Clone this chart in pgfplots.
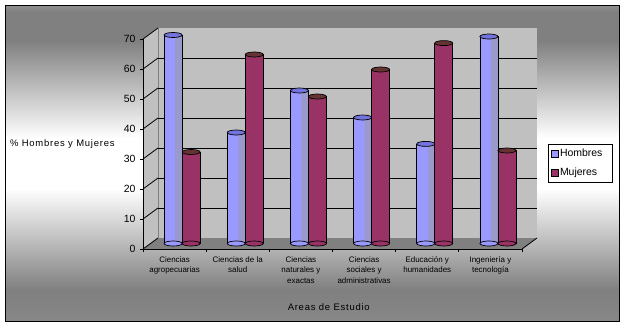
\documentclass[border=0pt]{standalone}
\usepackage{fontspec}
\setmainfont{Liberation Sans}
\usepackage{pgfplots}
\usepackage{pgfplotstable}
\pgfplotsset{compat=1.18}

\definecolor{hL}{HTML}{9999FF}
\definecolor{hR}{HTML}{9999CC}
\definecolor{hTop}{HTML}{7373DD}
\definecolor{mF}{HTML}{993366}
\definecolor{mTop}{HTML}{663333}
\definecolor{wallgray}{HTML}{C0C0C0}
\definecolor{floorgray}{HTML}{808080}
\definecolor{bgbot}{gray}{0.53}
\definecolor{bgmid}{gray}{0.5}
\definecolor{bgtop}{gray}{0.56}

\pgfdeclareverticalshading{bgshade}{100bp}{color(0bp)=(bgbot); color(25bp)=(bgbot); color(30bp)=(bgmid); color(46bp)=(white); color(54bp)=(white); color(69.5bp)=(bgmid); color(74bp)=(bgmid); color(75bp)=(bgtop); color(100bp)=(bgtop)}

\pgfdeclareplotmark{cylcap}{%
  \pgfpathellipse{\pgfpointorigin}{\pgfqpoint{9bp}{0bp}}{\pgfqpoint{0bp}{2.5bp}}%
  \pgfusepathqfillstroke}

\pgfplotstableread{
x H M
0 69.5 30.5
1 37 63
2 51 49
3 42 58
4 33.2 66.8
5 69 31
}\datatable

\begin{document}
\begin{tikzpicture}[x=1bp,y=1bp]
\useasboundingbox (0,0) rectangle (625,327);
\fill[white] (0,0) rectangle (625,327);
\fill[shading=bgshade] (5.5,5.5) rectangle (619.5,321.5);
\draw[black,line width=1bp] (5.5,5.5) rectangle (619.5,321.5);
% walls and floor
\fill[wallgray] (143,288) -- (158,299) -- (158,89) -- (143,78) -- cycle;
\fill[wallgray] (158,89) rectangle (537,299);
\fill[floorgray] (143,78) -- (158,89) -- (537,89) -- (522,78) -- cycle;
\draw[floorgray,line width=0.8bp] (158,89) -- (158,299);
\draw[black,line width=0.8bp] (522,78) -- (537,89);
\foreach \v in {0,10,...,70} {
  \draw[black,line width=0.8bp] (143,{78+3*\v}) -- (158,{89+3*\v});
}

% back wall gridlines
\begin{axis}[at={(158bp,89bp)}, anchor=south west, scale only axis,
  width=379bp, height=210bp, xmin=-0.5, xmax=5.5, ymin=0, ymax=70,
  axis line style={draw=none}, xtick=\empty, ytick={10,20,...,60},
  yticklabels={}, major tick length=0pt, ymajorgrids,
  major grid style={black,line width=0.8bp}]
\end{axis}

% bars (mid depth)
\begin{axis}[at={(150.5bp,83.5bp)}, anchor=south west, scale only axis,
  width=379bp, height=210bp, xmin=-0.5, xmax=5.5, ymin=0, ymax=70,
  hide axis, clip=false,
  legend style={at={(rel axis cs:1.0488,0.4738)}, anchor=north west,
    draw=black, fill=white, line width=0.8bp,
    font=\fontsize{10.5}{12}\selectfont, inner xsep=3bp, inner ysep=3.5bp,
    row sep=6.5bp, cells={anchor=west},
    nodes={inner sep=1bp, text height=8bp, text depth=2bp},
    /tikz/every even column/.style={column sep=0bp}},
  legend cell align=left]
\addlegendimage{legend image code/.code={\draw[fill=hL,draw=black,line width=0.6bp] (0bp,-3.5bp) rectangle (7bp,3.5bp);}}
\addlegendimage{legend image code/.code={\draw[fill=mF,draw=black,line width=0.6bp] (0bp,-3.5bp) rectangle (7bp,3.5bp);}}
% bottom caps
\addplot[forget plot, only marks, mark=cylcap, mark options={xshift=-9bp, fill=hL, draw=black, line width=0.7bp}] table[x=x, y expr=0] \datatable;
\addplot[forget plot, only marks, mark=cylcap, mark options={xshift=9bp, fill=mF, draw=black, line width=0.7bp}] table[x=x, y expr=0] \datatable;
% Hombres bars: light body, darker right side, outline
\addplot[forget plot, ybar, bar width=18bp, bar shift=-9bp, fill=hL, draw=none] table[x=x, y=H] \datatable;
\addplot[forget plot, ybar, bar width=7bp, bar shift=-3.5bp, fill=hR, draw=none] table[x=x, y=H] \datatable;
\addplot[forget plot, ybar, bar width=18bp, bar shift=-9bp, fill=none, draw=black, line width=0.7bp] table[x=x, y=H] \datatable;
% Mujeres bars
\addplot[forget plot, ybar, bar width=18bp, bar shift=9bp, fill=mF, draw=black, line width=0.7bp] table[x=x, y=M] \datatable;
% top caps
\addplot[forget plot, only marks, mark=cylcap, mark options={xshift=-9bp, fill=hTop, draw=black, line width=0.7bp}] table[x=x, y=H] \datatable;
\addplot[forget plot, only marks, mark=cylcap, mark options={xshift=9bp, fill=mTop, draw=black, line width=0.7bp}] table[x=x, y=M] \datatable;
\legend{Hombres\hspace*{6bp},Mujeres}
\end{axis}

% front axis
\begin{axis}[at={(143bp,78bp)}, anchor=south west, scale only axis,
  width=379bp, height=210bp, xmin=-0.5, xmax=5.5, ymin=0, ymax=70,
  axis x line*=bottom, axis y line*=left,
  axis line style={black,line width=0.8bp},
  ytick={0,10,...,70},
  xtick={0,...,5},
  xticklabels={{Ciencias\\agropecuarias},{Ciencias de la\\salud},{Ciencias\\naturales y\\exactas},{Ciencias\\sociales y\\administrativas},{Educación y\\humanidades},{Ingeniería y\\tecnología}},
  minor xtick={-0.5,0.5,...,5.5},
  tick align=outside, major tick length=3bp, minor tick length=3bp,
  major x tick style={draw=none},
  tick style={black,line width=0.8bp},
  /pgf/number format/assume math mode=true,
  yticklabel style={font=\fontsize{10.5}{12}\selectfont, xshift=-1bp},
  xticklabel style={font=\fontsize{8}{10.5}\selectfont, align=center, yshift=-1bp},
  ylabel={\% Hombres y Mujeres},
  ylabel style={rotate=-90, at={(rel axis cs:-0.36,0.5)}, anchor=west,
    font=\fontsize{9.5}{11}\selectfont\addfontfeatures{LetterSpace=8}},
  xlabel={Areas de Estudio},
  xlabel style={at={(rel axis cs:0.49,-0.276)}, anchor=center,
    font=\fontsize{9.5}{11}\selectfont\addfontfeatures{LetterSpace=8}}]
\end{axis}
\end{tikzpicture}
\end{document}
